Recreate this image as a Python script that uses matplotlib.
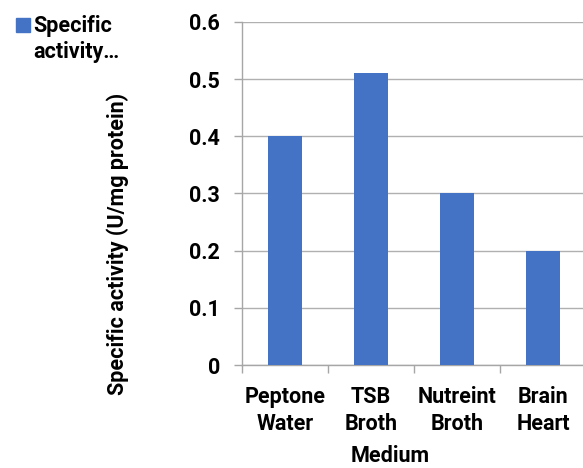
import matplotlib.pyplot as plt
from matplotlib.patches import Rectangle

media = ['Peptone\nWater', 'TSB\nBroth', 'Nutreint\nBroth', 'Brain\nHeart']
activity = [0.40, 0.51, 0.30, 0.20]
yticks = [0, 0.1, 0.2, 0.3, 0.4, 0.5, 0.6]

plt.rcParams['font.family'] = ['Roboto', 'DejaVu Sans']
plt.rcParams['font.weight'] = 'bold'
fs = 15.5

fig = plt.figure(figsize=(5.83, 4.68), dpi=100)
ax = fig.add_axes([242 / 583, 1 - 365 / 468, 344 / 583, (365 - 22) / 468])

x = range(len(media))
ax.bar(x, activity, width=0.4, color='#4472C4', zorder=3)

ax.set_xlim(-0.5, 3.5)
ax.set_ylim(0, 0.6)
ax.set_yticks(yticks)
ax.set_yticklabels(['0' if v == 0 else f'{v:.1f}' for v in yticks])
ax.set_xticks(list(x))
ax.set_xticklabels(media, fontsize=fs, fontweight='bold', linespacing=1.3)
ax.set_xticks([i - 0.5 for i in range(len(media) + 1)], minor=True)
ax.tick_params(axis='x', which='major', length=0, pad=15)
ax.tick_params(axis='x', which='minor', length=6, color='#a6a6a6', width=1)
ax.tick_params(axis='y', length=6, color='#a6a6a6', width=1, labelsize=fs, pad=10)
for lbl in ax.get_yticklabels():
    lbl.set_fontweight('bold')

ax.grid(axis='y', color='#b0b0b0', linewidth=1, zorder=0)
for s in ['top', 'right']:
    ax.spines[s].set_visible(False)
for s in ['left', 'bottom']:
    ax.spines[s].set_color('#a6a6a6')
    ax.spines[s].set_linewidth(1)

fig.text(118 / 583, 1 - 244 / 468, 'Specific activity (U/mg protein)', rotation=90,
         ha='center', va='center', fontsize=fs, fontweight='bold')
fig.text(390 / 583, 1 - 456 / 468, 'Medium', ha='center', va='center',
         fontsize=fs, fontweight='bold')

# legend
fig.patches.append(Rectangle((16 / 583, 1 - 32 / 468), 14 / 583, 14 / 468,
                             transform=fig.transFigure, color='#4472C4'))
fig.text(33 / 583, 1 - 32 / 468, 'Specific', ha='left', va='baseline',
         fontsize=fs, fontweight='bold')
fig.text(33 / 583, 1 - 58 / 468, 'activity…', ha='left', va='baseline',
         fontsize=fs, fontweight='bold')

fig.savefig('out.png', dpi=100)
